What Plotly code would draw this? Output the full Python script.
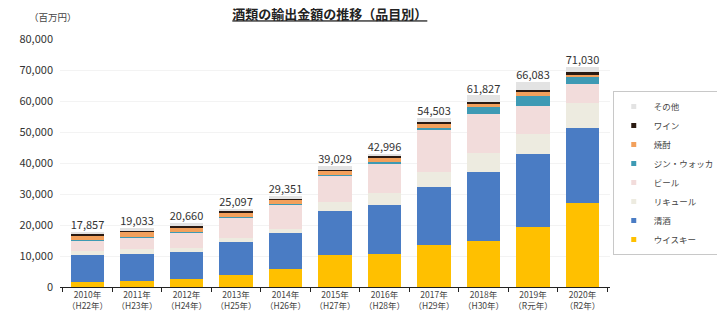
import plotly.graph_objects as go

years = ["2010年", "2011年", "2012年", "2013年", "2014年", "2015年",
         "2016年", "2017年", "2018年", "2019年", "2020年"]
eras = ["（H22年）", "（H23年）", "（H24年）", "（H25年）", "（H26年）", "（H27年）",
        "（H28年）", "（H29年）", "（H30年）", "（R元年）", "（R2年）"]
totals = [17857, 19033, 20660, 25097, 29351, 39029, 42996, 54503, 61827, 66083, 71030]

whisky = [1700, 2000, 2500, 3900, 5800, 10400, 10800, 13600, 15000, 19500, 27100]
sake = [8500, 8800, 8900, 10500, 11500, 14000, 15600, 18700, 22200, 23400, 24100]
liqueur = [1300, 1500, 1100, 1300, 1500, 3000, 3800, 4800, 5900, 6500, 8300]
beer = [3600, 3800, 5100, 6600, 7700, 8500, 9700, 13400, 12600, 8900, 5900]
gin = [100, 100, 150, 200, 200, 250, 300, 700, 2400, 3200, 2200]
shochu = [1500, 1600, 1600, 1500, 1400, 1300, 1500, 1400, 1200, 1600, 1100]
wine = [450, 400, 400, 400, 300, 400, 400, 500, 500, 400, 500]
parts = [whisky, sake, liqueur, beer, gin, shochu, wine]
other = [t - sum(p[i] for p in parts) for i, t in enumerate(totals)]

series = [
    ("ウイスキー", whisky, "#FFC000"),
    ("清酒", sake, "#4A7CC4"),
    ("リキュール", liqueur, "#EDEBE0"),
    ("ビール", beer, "#F2DCDB"),
    ("ジン・ウォッカ", gin, "#3E9AB4"),
    ("焼酎", shochu, "#F2A05C"),
    ("ワイン", wine, "#2A1A12"),
    ("その他", other, "#E3E3E3"),
]

cats = [f"{y}<br>{e}" for y, e in zip(years, eras)]
FONT = "Noto Sans CJK JP"

fig = go.Figure()
for name, vals, color in series:
    fig.add_trace(go.Bar(x=cats, y=vals, name=name, legendgroup=name, showlegend=False,
                         marker=dict(color=color, line=dict(width=0))))
    fig.add_trace(go.Scatter(x=[None], y=[None], mode="markers", name=name, legendgroup=name,
                             marker=dict(symbol="square", size=5, color=color,
                                         line=dict(width=0)),
                             hoverinfo="skip"))

fig.add_trace(go.Scatter(
    x=cats, y=totals, mode="text",
    text=[f"{t:,}" for t in totals], textposition="top center",
    textfont=dict(size=11, color="#333333", family=FONT),
    showlegend=False, hoverinfo="skip", cliponaxis=False,
))

fig.update_layout(
    width=717, height=328,
    margin=dict(l=60, r=107, t=39, b=41, autoexpand=False),
    barmode="stack", bargap=0.33,
    paper_bgcolor="white", plot_bgcolor="white",
    font=dict(family=FONT, size=10, color="#333333"),
    title=dict(text="<b><u>酒類の輸出金額の推移（品目別）</u></b>",
               x=0.46, xanchor="center", y=0.955, yanchor="middle",
               font=dict(size=13, color="#222222")),
    legend=dict(traceorder="reversed", x=1.005, xanchor="left", y=0.79, yanchor="top",
                bordercolor="#C8C8C8", borderwidth=1, font=dict(size=8.5, color="#444444"),
                itemwidth=30, tracegroupgap=0, itemsizing="trace", bgcolor="white"),
    showlegend=True,
)
fig.update_xaxes(showline=True, linecolor="#222222", linewidth=1,
                 ticks="outside", tickson="boundaries", ticklen=4, tickcolor="#222222",
                 tickangle=0, automargin=False,
                 tickfont=dict(size=8.5, color="#444444"))
fig.update_yaxes(range=[0, 80000], dtick=10000, tickformat=",",
                 showgrid=True, gridcolor="#F3F3F3", zeroline=False, automargin=False,
                 tickfont=dict(size=11, color="#333333"), ticklabelstandoff=6)
fig.add_annotation(text="（百万円）", xref="paper", yref="paper", x=-0.06, y=1.09,
                   xanchor="left", yanchor="middle", showarrow=False,
                   font=dict(size=9.5, color="#444444"))

fig.write_html("out.html")
